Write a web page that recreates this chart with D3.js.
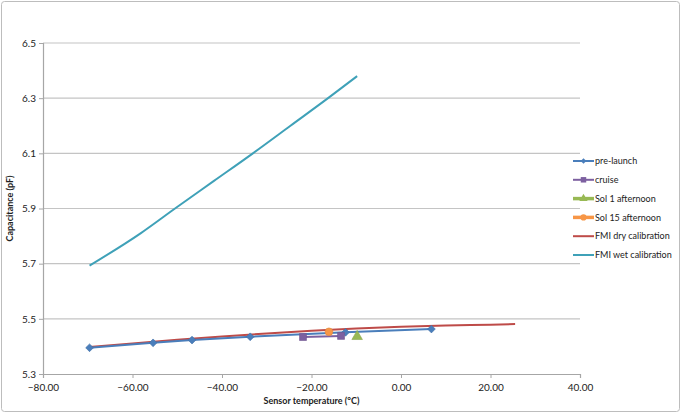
<!DOCTYPE html>
<html>
<head>
<meta charset="utf-8">
<script src="https://cdn.jsdelivr.net/npm/d3@7"></script>
<style>
  body { margin: 0; background: #fff; }
  svg text { font-family: Lato, "Open Sans", sans-serif; fill: #222; }
</style>
</head>
<body>
<div id="chart"></div>
<script>

// data

const xTicks = [-80, -60, -40, -20, 0, 20, 40]
const yTicks = [5.3, 5.5, 5.7, 5.9, 6.1, 6.3, 6.5]

const preLaunch = [
  [-69.6, 5.395], [-55.4, 5.413], [-46.7, 5.423], [-33.7, 5.435],
  [-12.4, 5.451], [6.8, 5.463]
]
const cruise = [[-21.9, 5.434], [-13.4, 5.438]]
const sol1 = [[-9.8, 5.436]]
const sol15 = [[-16.1, 5.453]]
const fmiDry = [
  [-69.6, 5.398], [-60, 5.411], [-50, 5.424], [-40, 5.436], [-30, 5.447],
  [-20, 5.457], [-10, 5.465], [0, 5.471], [10, 5.476], [20, 5.479], [25.5, 5.481]
]
const fmiWet = [
  [-69.6, 5.693], [-58.2, 5.81], [-50.5, 5.9], [-41.8, 6.0], [-33.1, 6.1],
  [-24.7, 6.2], [-16.3, 6.3], [-9.8, 6.38]
]

// "diamond" is a square turned 45 degrees, like the spreadsheet marker
const series = [
  {name: "pre-launch", data: preLaunch, color: "#4a7ebb", symbol: d3.symbolSquare, rotate: 45},
  {name: "cruise", data: cruise, color: "#7d60a0", symbol: d3.symbolSquare, rotate: 0},
  {name: "Sol 1 afternoon", data: sol1, color: "#98b954", symbol: d3.symbolTriangle, rotate: 0},
  {name: "Sol 15 afternoon", data: sol15, color: "#f79646", symbol: d3.symbolCircle, rotate: 0},
  {name: "FMI dry calibration", data: fmiDry, color: "#be4b48", symbol: null, smooth: true},
  {name: "FMI wet calibration", data: fmiWet, color: "#3fa1b8", symbol: null, smooth: true}
]

// constants

const width = 682
const height = 414
const margin = {top: 43, bottom: 40, left: 43, right: 102}

const svg = d3.select("#chart")
  .append("svg")
  .attr("width", width)
  .attr("height", height)

// outer frame
svg.append("rect")
  .attr("x", 1.5).attr("y", 1.5)
  .attr("width", width - 4).attr("height", height - 4)
  .attr("rx", 3)
  .attr("fill", "#fff")
  .attr("stroke", "#bdbdbd")

// scales

const xScale = d3.scaleLinear()
  .domain([-80, 40])
  .range([margin.left, width - margin.right])

const yScale = d3.scaleLinear()
  .domain([5.3, 6.5])
  .range([height - margin.bottom, margin.top])

// gridlines
svg.append("g")
  .selectAll("line")
  .data(yTicks.slice(1))
  .join("line")
  .attr("x1", margin.left)
  .attr("x2", width - margin.right)
  .attr("y1", d => yScale(d))
  .attr("y2", d => yScale(d))
  .attr("stroke", "#c4c4c4")
  .attr("stroke-width", 1.2)

// axes

const xAxis = d3.axisBottom(xScale)
  .tickValues(xTicks)
  .tickFormat(d3.format(".2f"))
  .tickSize(4)

const yAxis = d3.axisLeft(yScale)
  .tickValues(yTicks)
  .tickFormat(d3.format(".1f"))
  .tickSize(4)

const xAxisGroup = svg.append("g")
  .attr("transform", `translate(0, ${height - margin.bottom})`)
  .call(xAxis)

const yAxisGroup = svg.append("g")
  .attr("transform", `translate(${margin.left}, 0)`)
  .call(yAxis)

for (const g of [xAxisGroup, yAxisGroup]) {
  g.select(".domain").attr("stroke", "#a6a6a6").attr("stroke-width", 1.2)
  g.selectAll(".tick line").attr("stroke", "#a6a6a6")
  g.selectAll(".tick text").attr("font-size", 10).attr("fill", "#222")
    .style("font-family", "Lato, 'Open Sans', sans-serif")
}
xAxisGroup.selectAll(".tick text").attr("dy", "0.95em")
yAxisGroup.selectAll(".tick text").attr("x", -7)

// axis titles
svg.append("text")
  .attr("x", (margin.left + width - margin.right) / 2)
  .attr("y", 404)
  .attr("text-anchor", "middle")
  .attr("font-size", 9)
  .attr("font-weight", "bold")
  .text("Sensor temperature (°C)")

svg.append("text")
  .attr("transform", `translate(13, ${(margin.top + height - margin.bottom) / 2}) rotate(-90)`)
  .attr("text-anchor", "middle")
  .attr("font-size", 9)
  .attr("font-weight", "bold")
  .text("Capacitance (pF)")

// lines

const straight = d3.line()
  .x(d => xScale(d[0]))
  .y(d => yScale(d[1]))

const smooth = d3.line()
  .x(d => xScale(d[0]))
  .y(d => yScale(d[1]))
  .curve(d3.curveMonotoneX)

const drawOrder = [series[4], series[5], series[0], series[1], series[2], series[3]]

drawOrder.forEach(s => {
  if (s.data.length > 1) {
    svg.append("path")
      .datum(s.data)
      .attr("fill", "none")
      .attr("stroke", s.color)
      .attr("stroke-width", 2)
      .attr("d", s.smooth ? smooth : straight)
  }
  if (s.symbol) {
    svg.append("g")
      .selectAll("path")
      .data(s.data)
      .join("path")
      .attr("transform", d => `translate(${xScale(d[0])}, ${yScale(d[1])}) rotate(${s.rotate})`)
      .attr("d", d3.symbol().type(s.symbol).size(s.rotate ? 30 : 48))
      .attr("fill", s.color)
      .attr("stroke", d3.color(s.color).darker(0.3))
      .attr("stroke-width", 0.6)
  }
})

// legend

const legend = svg.append("g")
  .attr("transform", "translate(573, 161)")

const item = legend.selectAll("g")
  .data(series)
  .join("g")
  .attr("transform", (d, i) => `translate(0, ${i * 18.8})`)

item.append("line")
  .attr("x1", 0).attr("x2", 21)
  .attr("stroke", d => d.color)
  .attr("stroke-width", d => d.name.startsWith("Sol") ? 3.5 : 2)

item.filter(d => d.symbol)
  .append("path")
  .attr("transform", d => `translate(10.5, 0) rotate(${d.rotate})`)
  .attr("d", d => d3.symbol().type(d.symbol).size(d.rotate ? 16 : 30)())
  .attr("fill", d => d.color)

item.append("text")
  .attr("x", 22)
  .attr("dy", "0.35em")
  .attr("font-size", 9)
  .text(d => d.name)

</script>
</body>
</html>
